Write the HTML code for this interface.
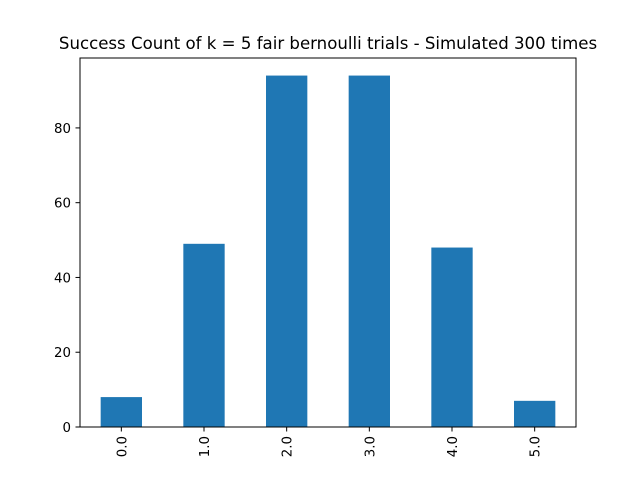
<!DOCTYPE html>
<html><head><meta charset="utf-8"><style>
body{margin:0;background:#fff}
svg{display:block;font-family:"DejaVu Sans","Liberation Sans",sans-serif}
</style></head><body>
<svg id="chart" width="640" height="480"></svg>
<script>
const categories=["0.0","1.0","2.0","3.0","4.0","5.0"];
const counts=[8,49,94,94,48,7];
const yTicks=[0,20,40,60,80];
const NS="http://www.w3.org/2000/svg";
const svg=document.getElementById('chart');
const L=80,R=576,T=58,B=427;
const ymax=Math.max(...counts)*1.05;
const x=i=>L+(i+0.5)*(R-L)/categories.length;
const y=v=>B-v/ymax*(B-T);
const bw=0.5*(R-L)/categories.length;
function mk(tag,attrs){const e=document.createElementNS(NS,tag);for(const k in attrs)e.setAttribute(k,attrs[k]);svg.appendChild(e);return e;}
const bg=mk('rect',{x:0,y:0,width:640,height:480,fill:'#fff'});


counts.forEach((v,i)=>{
  const r=mk('rect',{x:x(i)-bw/2,y:y(v),width:bw,height:B-y(v),fill:'#1f77b4'});
  
  
});
const frame=mk('rect',{x:L,y:T,width:R-L,height:B-T,fill:'none',stroke:'#000','stroke-width':1});


yTicks.forEach(t=>{
  const ln=mk('line',{x1:L-4.5,x2:L,y1:y(t),y2:y(t),stroke:'#000','stroke-width':1});
  
  
  const tx=mk('text',{x:L-9,y:y(t)+5,'text-anchor':'end','font-size':13.33});
  tx.textContent=t;
  
  
});
categories.forEach((c,i)=>{
  const ln=mk('line',{x1:x(i),x2:x(i),y1:B,y2:B+4.5,stroke:'#000','stroke-width':1});
  
  
  const tx=mk('text',{x:0,y:0,'text-anchor':'end','font-size':13.33,transform:`translate(${x(i)+5},${B+9}) rotate(-90)`});
  tx.textContent=c;
  
  
});
const title=mk('text',{x:(L+R)/2,y:49,'text-anchor':'middle','font-size':16.6});
title.textContent='Success Count of k = 5 fair bernoulli trials - Simulated 300 times';


</script>
</body></html>
